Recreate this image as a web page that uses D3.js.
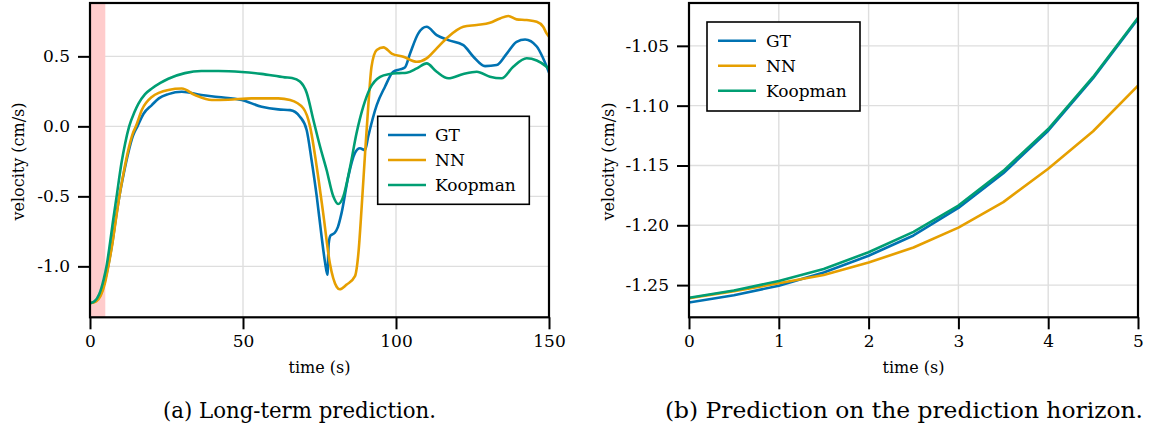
<!DOCTYPE html>
<html><head><meta charset="utf-8">
<script src="https://cdn.jsdelivr.net/npm/d3@7"></script>
<style>
html,body{margin:0;padding:0;background:#fff;}
svg text{font-family:"DejaVu Serif",serif;fill:#000;}
</style></head>
<body>
<svg id="c" width="1154" height="427"></svg>
<script>
// ---------- Data: (a) long-term prediction ----------
const gtT = [0,2,3.5,5,6,7.3,8.5,9.6,11,12.5,14,15.5,17.5,20.2,22.5,25.6,30,36.4,41.9,49.6,56.1,61.5,65.4,68.6,70.8,72.4,74.1,75.7,76.8,77.6,78.0,78.6,80.0,81.0,82.2,84.4,86.6,88.2,89.9,90.9,93.7,96.4,99.1,101.3,102.9,104.6,107.3,110,113.3,117.1,122,125.3,129.1,132.9,136.2,139.4,142.2,146,148,150];
const gtV = [-1.264,-1.245,-1.2,-1.09,-0.99,-0.83,-0.65,-0.5,-0.34,-0.19,-0.07,0.0,0.09,0.152,0.2,0.23,0.247,0.224,0.21,0.188,0.14,0.121,0.116,0.069,-0.026,-0.24,-0.5,-0.79,-0.97,-1.06,-0.84,-0.78,-0.76,-0.72,-0.62,-0.36,-0.19,-0.157,-0.17,-0.074,0.152,0.283,0.39,0.407,0.42,0.52,0.664,0.711,0.652,0.616,0.58,0.497,0.43,0.438,0.52,0.604,0.62,0.57,0.49,0.385];

const nnT = [0,2,3.5,5,6,7.3,8.5,9.6,11,12.5,14,15,17,20.2,25.6,30,34.3,39.8,45.2,52.8,61.5,65.4,69.7,71.9,74.1,76.2,78.4,80.6,81.6,83.9,86.6,87.7,88.8,89.9,91,92,93.7,95.9,98.6,102.4,106.8,110,113.3,117.1,122,126.4,130.7,134,136.7,139.4,142.7,146,148.1,149.2,150];
const nnV = [-1.264,-1.25,-1.21,-1.11,-1.0,-0.84,-0.66,-0.5,-0.33,-0.17,-0.05,0.0,0.12,0.21,0.26,0.27,0.224,0.188,0.19,0.2,0.2,0.188,0.129,0.0,-0.29,-0.62,-0.98,-1.146,-1.164,-1.13,-1.07,-0.91,-0.57,-0.19,0.164,0.426,0.545,0.564,0.52,0.497,0.461,0.486,0.557,0.64,0.711,0.724,0.74,0.771,0.788,0.764,0.759,0.747,0.711,0.664,0.64];

const kpT = [0,1.5,3,4.5,5.4,6.5,7.5,8.7,10.3,11.5,12.8,14.5,15.8,18,20.2,23,25.6,31,36.4,42,49.6,56,63.7,66,68.6,70.8,73,75.2,77.3,79.5,81.1,82.8,85,87.1,89.3,91.5,94.8,98,101,103.5,106.8,110,113.3,117.1,122,126.4,130.7,134.5,138.3,142.7,146,149.2,150];
const kpV = [-1.264,-1.25,-1.2,-1.09,-1.0,-0.84,-0.68,-0.5,-0.26,-0.12,0.0,0.1,0.16,0.23,0.27,0.31,0.34,0.38,0.395,0.395,0.388,0.375,0.35,0.345,0.32,0.24,0.045,-0.146,-0.31,-0.5,-0.555,-0.5,-0.29,-0.05,0.14,0.27,0.354,0.374,0.38,0.383,0.414,0.45,0.39,0.343,0.374,0.39,0.354,0.343,0.426,0.486,0.47,0.426,0.41];

const leftXTicks = [0,50,100,150];
const leftYTicks = [-1.0,-0.5,0.0,0.5];
const horizonEnd = 5;

// ---------- Data: (b) prediction horizon ----------
const hT  = [0,0.5,1,1.5,2,2.5,3,3.5,4,4.5,5];
const hGT = [-1.2645,-1.2585,-1.2505,-1.2395,-1.2255,-1.2085,-1.1855,-1.1565,-1.1210,-1.0770,-1.0275];
const hNN = [-1.261,-1.255,-1.2485,-1.2415,-1.2311,-1.2186,-1.2019,-1.1806,-1.1528,-1.1214,-1.0833];
const hKP = [-1.2606,-1.2545,-1.2465,-1.2365,-1.2225,-1.2055,-1.1835,-1.1545,-1.1195,-1.0760,-1.0265];
const rightXTicks = [0,1,2,3,4,5];
const rightYTicks = [-1.25,-1.20,-1.15,-1.10,-1.05];

const seriesNames = ["GT","NN","Koopman"];
const colors = {"GT":"#0072B2","NN":"#E69F00","Koopman":"#009E73"};

// ---------- Drawing ----------
const svg = d3.select("#c");
const plotTop = 3, plotBottom = 317.3;

function panel(opts){
  const g = svg.append("g");
  const x = d3.scaleLinear().domain(opts.xDomain).range(opts.xRange);
  const y = d3.scaleLinear().domain(opts.yDomain).range([plotBottom, plotTop]);
  const [x0,x1] = opts.xRange;
  g.append("g").selectAll("line").data(opts.xTicks).join("line")
    .attr("x1",d=>x(d)).attr("x2",d=>x(d)).attr("y1",plotTop).attr("y2",plotBottom)
    .attr("stroke","#dedede").attr("stroke-width",1.4);
  g.append("g").selectAll("line").data(opts.yTicks).join("line")
    .attr("x1",x0).attr("x2",x1).attr("y1",d=>y(d)).attr("y2",d=>y(d))
    .attr("stroke","#dedede").attr("stroke-width",1.4);
  if (opts.shade) {
    g.append("rect").attr("x",x(opts.shade[0])).attr("width",x(opts.shade[1])-x(opts.shade[0]))
      .attr("y",plotTop).attr("height",plotBottom-plotTop).attr("fill","#ffcccc");
  }
  const cid = "clip"+opts.id;
  svg.append("clipPath").attr("id",cid).append("rect")
    .attr("x",x0).attr("y",plotTop).attr("width",x1-x0).attr("height",plotBottom-plotTop);
  const lines = g.append("g").attr("clip-path",`url(#${cid})`);
  opts.series.forEach(s=>{
    const pts = s.t.map((t,i)=>[t,s.v[i]]);
    lines.append("path").datum(pts)
      .attr("fill","none").attr("stroke",colors[s.name]).attr("stroke-width",2.6)
      .attr("stroke-linejoin","round").attr("stroke-linecap","round")
      .attr("d", d3.line().x(d=>x(d[0])).y(d=>y(d[1])).curve(opts.curve));
  });
  const ax = g.append("g").attr("transform",`translate(0,${plotBottom})`)
    .call(d3.axisBottom(x).tickValues(opts.xTicks).tickSize(12).tickPadding(6).tickFormat(d=>String(d)));
  const ay = g.append("g").attr("transform",`translate(${x0},0)`)
    .call(d3.axisLeft(y).tickValues(opts.yTicks).tickSize(12).tickPadding(8).tickFormat(opts.yFmt));
  [ax,ay].forEach(a=>{
    a.select(".domain").remove();
    a.selectAll(".tick line").attr("stroke","#000").attr("stroke-width",2);
    a.selectAll(".tick text").attr("font-size",17).attr("font-family","DejaVu Serif").attr("fill","#000");
  });
  g.append("rect").attr("x",x0).attr("y",plotTop).attr("width",x1-x0).attr("height",plotBottom-plotTop)
    .attr("fill","none").attr("stroke","#000").attr("stroke-width",2.2);
  g.append("text").attr("x",(x0+x1)/2).attr("y",373).attr("text-anchor","middle")
    .attr("font-size",16).text("time (s)");
  g.append("text").attr("transform",`translate(${opts.yTitleX},161.5) rotate(-90)`)
    .attr("text-anchor","middle").attr("font-size",16).text("velocity (cm/s)");
  const L = opts.legend;
  g.append("rect").attr("x",L.x).attr("y",L.y).attr("width",L.w).attr("height",L.h)
    .attr("fill","#fff").attr("stroke","#000").attr("stroke-width",1.6);
  seriesNames.forEach((n,i)=>{
    const yy = L.y0 + i*L.dy;
    g.append("line").attr("x1",L.lx0).attr("x2",L.lx1).attr("y1",yy).attr("y2",yy)
      .attr("stroke",colors[n]).attr("stroke-width",2.6);
    g.append("text").attr("x",L.tx).attr("y",yy).attr("dy","0.35em")
      .attr("font-size",17).text(n);
  });
  g.append("text").attr("x",opts.capX).attr("y",417.5).attr("text-anchor","middle")
    .attr("font-size",21.5).attr("textLength",opts.capW).attr("lengthAdjust","spacingAndGlyphs")
    .text(opts.caption);
}

panel({
  id:"a", xDomain:[0,150], xRange:[90,549], yDomain:[-1.364,0.881],
  xTicks:leftXTicks, yTicks:leftYTicks, yFmt:d=>d.toFixed(1),
  shade:[0,horizonEnd], curve:d3.curveMonotoneX,
  series:[{name:"GT",t:gtT,v:gtV},{name:"NN",t:nnT,v:nnV},{name:"Koopman",t:kpT,v:kpV}],
  yTitleX:24,
  legend:{x:377.7,y:116.3,w:151.6,h:88,y0:135,dy:25,lx0:388,lx1:426,tx:435},
  capX:299.5, capW:273, caption:"(a) Long-term prediction."
});
panel({
  id:"b", xDomain:[0,5], xRange:[689,1138], yDomain:[-1.2769,-1.0142],
  xTicks:rightXTicks, yTicks:rightYTicks, yFmt:d=>d.toFixed(2),
  curve:d3.curveLinear,
  series:[{name:"GT",t:hT,v:hGT},{name:"NN",t:hT,v:hNN},{name:"Koopman",t:hT,v:hKP}],
  yTitleX:614,
  legend:{x:707,y:22,w:153,h:89,y0:40.7,dy:25,lx0:718,lx1:756,tx:766},
  capX:904, capW:478, caption:"(b) Prediction on the prediction horizon."
});
</script>
</body></html>
